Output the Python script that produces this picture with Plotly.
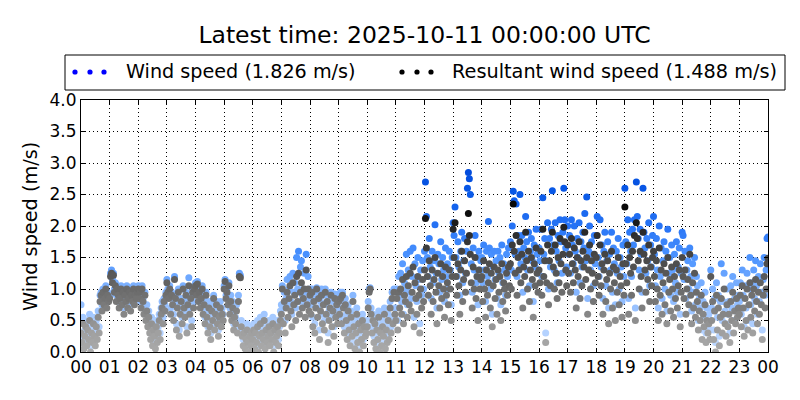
import plotly.graph_objects as go
import pandas as pd

# ---------------- data (~2-minute samples per hour) ----------------
wind_speed_by_hour = [
    [0.75,0.25,0.55,0.15,0.35,0.5,0.2,0.45,0.3,0.6,0.1,0.4,0.25,0.55,0.35,0.2,0.5,0.3,0.65,0.4,0.9,0.95,0.75,1.0,0.85,0.9,1.05,0.8,0.95,0.9],
    [0.9,1.25,1.3,1.15,1.25,1.0,1.1,0.9,1.05,0.95,0.8,0.9,1.05,0.85,1.0,0.7,0.95,0.9,1.05,0.8,0.9,1.0,0.75,0.95,0.85,1.05,0.8,0.95,0.9,1.0],
    [1.05,0.9,1.0,0.8,1.05,0.85,0.7,0.95,0.6,0.75,0.5,0.65,0.4,0.3,0.55,0.2,0.45,0.35,0.15,0.5,0.25,0.4,0.6,0.3,0.7,0.8,0.55,0.85,0.75,0.95],
    [1.15,1.0,0.95,1.05,0.7,0.95,0.85,0.6,1.2,0.9,0.45,0.8,1.0,0.35,0.7,0.85,0.55,1.05,0.8,0.65,0.95,0.4,0.85,1.18,0.7,0.9,0.5,1.0,0.8,1.05],
    [1.1,0.95,1.12,0.9,1.0,0.8,0.9,1.05,0.7,0.85,0.55,0.95,0.65,0.4,0.8,0.5,0.3,0.75,0.6,0.9,0.45,0.7,0.8,0.55,0.35,0.65,0.8,0.5,0.7,0.6],
    [1.05,1.15,0.9,1.0,0.85,1.1,0.7,0.9,0.6,0.8,0.45,0.65,0.55,0.75,0.4,0.9,1.25,1.22,0.5,0.35,0.2,0.4,0.15,0.3,0.45,0.25,0.1,0.35,0.2,0.4],
    [0.3,0.45,0.15,0.4,0.25,0.5,0.1,0.35,0.55,0.2,0.4,0.3,0.6,0.15,0.45,0.25,0.35,0.5,0.2,0.4,0.3,0.55,0.1,0.45,0.25,0.35,0.5,0.2,0.4,0.65],
    [0.75,1.05,0.7,0.95,0.5,0.85,1.15,0.75,1.0,1.2,0.8,0.6,1.25,0.95,1.1,0.7,1.5,1.0,1.6,0.8,1.35,1.45,0.9,1.0,1.25,0.75,1.55,0.95,1.2,0.85],
    [1.0,0.75,1.0,0.55,0.95,0.45,0.85,1.02,0.7,0.95,0.35,0.8,1.0,0.6,0.9,0.5,1.0,0.75,0.9,0.3,0.65,0.85,0.95,0.55,0.8,0.4,0.92,0.7,0.85,0.6],
    [0.9,0.7,0.95,0.55,0.95,0.8,0.4,0.85,0.6,0.3,0.75,0.45,0.2,0.65,0.35,0.9,0.5,0.15,0.4,0.7,0.25,0.55,0.1,0.45,0.3,0.6,0.2,0.5,0.35,0.4],
    [0.5,0.8,1.0,1.02,0.7,0.4,0.6,0.25,0.55,0.15,0.45,0.3,0.65,0.1,0.4,0.2,0.5,0.35,0.7,0.15,0.45,0.25,0.6,0.3,0.8,0.4,0.95,0.55,1.0,0.7],
    [0.7,1.0,0.5,1.2,0.9,1.25,0.8,1.4,0.6,1.1,1.0,1.55,0.75,1.3,0.95,1.6,0.85,1.2,1.65,0.55,1.4,1.05,0.8,1.5,1.15,0.45,1.3,0.9,1.45,1.0],
    [1.6,2.7,2.15,1.5,1.2,1.8,1.35,0.85,1.6,1.1,1.45,2.02,1.25,0.7,1.55,1.4,0.95,1.75,1.15,1.5,1.3,0.8,1.65,1.2,1.4,1.0,1.6,1.3,0.75,1.5],
    [2.05,1.85,2.3,1.5,1.2,1.75,1.35,0.9,1.6,1.9,1.1,1.45,1.8,1.25,1.6,2.6,2.85,2.75,2.5,1.4,0.95,1.65,1.3,1.85,1.1,1.5,0.75,1.6,1.3,1.45],
    [1.5,1.1,1.7,1.3,0.8,1.6,1.2,2.07,1.65,1.0,1.55,0.6,1.35,1.6,1.15,1.45,0.85,1.6,1.25,1.5,0.75,1.7,1.1,1.4,1.3,0.9,1.55,1.2,1.65,1.35],
    [1.75,1.3,2.0,2.55,2.4,1.55,2.35,1.2,1.85,1.6,2.5,1.4,1.85,0.95,1.65,1.5,2.15,1.75,1.3,1.9,1.05,1.6,1.8,1.45,0.8,1.7,1.35,1.95,1.55,1.25],
    [1.65,1.45,1.95,1.2,2.45,1.55,1.8,0.3,1.45,2.05,1.0,1.8,1.35,1.95,2.56,1.7,1.3,2.05,1.6,1.1,1.85,1.45,2.1,1.75,1.25,1.9,2.6,2.1,1.65,1.35],
    [2.0,1.55,1.85,1.25,2.1,1.7,1.4,2.0,1.6,0.95,1.8,1.5,2.05,1.1,1.75,1.35,1.9,1.65,2.2,1.45,2.46,0.85,1.6,2.0,1.3,1.75,1.55,1.05,1.85,1.4],
    [1.85,2.15,1.5,1.2,2.1,1.35,1.7,0.85,1.6,1.9,1.05,1.45,1.75,0.7,1.55,1.3,1.9,0.95,1.65,1.4,0.75,1.6,1.25,1.8,1.0,1.5,1.35,0.8,1.7,1.2],
    [2.6,1.75,1.4,2.1,0.85,1.9,1.6,1.2,1.95,1.7,2.1,0.7,2.7,2.15,1.8,1.3,1.95,1.55,0.95,2.6,1.9,1.65,1.25,1.8,1.45,2.05,1.05,1.7,1.35,1.85],
    [2.15,1.55,1.05,1.8,1.3,0.7,2.0,1.2,1.65,0.85,1.45,1.75,1.0,1.6,0.65,1.95,1.25,1.5,0.9,1.7,1.3,0.8,1.55,1.1,1.75,0.95,1.35,1.65,0.6,1.25],
    [1.9,1.85,1.15,1.6,0.85,1.3,1.45,1.0,1.65,1.2,0.65,1.4,0.95,1.5,0.75,1.2,1.05,0.5,0.85,0.7,1.1,0.35,0.8,0.55,0.95,0.3,0.7,0.45,0.6,0.35],
    [1.3,0.7,1.0,0.35,0.85,0.15,1.1,0.55,0.9,0.25,0.8,1.4,0.5,0.8,1.25,0.65,0.45,1.0,0.6,0.8,0.3,1.05,0.7,1.2,0.5,0.85,0.65,1.1,0.75,0.9],
    [0.8,1.1,0.6,1.3,0.9,0.4,1.05,0.7,1.25,0.5,1.0,1.5,0.75,1.1,0.45,1.3,0.85,1.45,1.05,0.6,1.2,0.8,1.4,0.95,0.35,1.15,1.5,0.9,1.3,1.8],
]
resultant_by_hour = [
    [0.3,0.15,0.45,0.05,0.25,0.4,0.1,0.35,0.2,0.5,0.0,0.3,0.15,0.45,0.25,0.1,0.4,0.2,0.55,0.3,0.8,0.9,0.65,0.95,0.75,0.85,1.0,0.7,0.9,0.8],
    [0.85,1.2,1.25,1.1,1.22,0.95,1.05,0.8,1.0,0.9,0.7,0.85,1.0,0.75,0.95,0.6,0.9,0.8,1.0,0.7,0.85,0.95,0.65,0.9,0.8,1.0,0.75,0.9,0.85,0.95],
    [1.0,0.85,0.95,0.7,1.0,0.8,0.6,0.9,0.5,0.65,0.4,0.55,0.3,0.2,0.45,0.1,0.35,0.25,0.05,0.4,0.15,0.3,0.5,0.2,0.6,0.7,0.45,0.8,0.65,0.9],
    [1.1,0.95,0.85,1.0,0.6,0.9,0.75,0.5,1.15,0.85,0.35,0.7,0.95,0.25,0.6,0.8,0.45,1.0,0.7,0.55,0.9,0.3,0.75,1.05,0.6,0.85,0.4,0.95,0.7,1.0],
    [1.05,0.9,1.08,0.8,0.95,0.7,0.85,1.0,0.6,0.75,0.45,0.9,0.55,0.3,0.7,0.4,0.2,0.65,0.5,0.85,0.35,0.6,0.75,0.45,0.25,0.55,0.7,0.4,0.6,0.5],
    [1.0,1.12,0.85,0.95,0.75,1.05,0.6,0.8,0.5,0.7,0.35,0.55,0.45,0.65,0.3,0.8,1.2,1.18,0.4,0.25,0.1,0.3,0.05,0.2,0.35,0.15,0.0,0.25,0.1,0.3],
    [0.2,0.35,0.05,0.3,0.15,0.4,0.0,0.25,0.45,0.1,0.3,0.2,0.5,0.05,0.35,0.15,0.25,0.4,0.1,0.3,0.2,0.45,0.0,0.35,0.15,0.25,0.4,0.1,0.3,0.5],
    [0.6,1.0,0.45,0.8,0.3,0.7,0.95,0.55,0.85,1.05,0.65,0.4,1.1,0.75,0.9,0.5,1.2,0.8,1.25,0.6,0.95,1.1,0.7,0.85,1.0,0.55,1.3,0.75,1.0,0.65],
    [0.9,0.6,0.95,0.4,0.8,0.3,0.7,1.0,0.55,0.85,0.2,0.65,0.9,0.45,0.75,0.35,0.95,0.6,0.8,0.15,0.5,0.7,0.9,0.4,0.65,0.25,0.85,0.55,0.75,0.45],
    [0.8,0.6,0.85,0.45,0.9,0.7,0.3,0.75,0.5,0.2,0.65,0.35,0.1,0.55,0.25,0.8,0.4,0.05,0.3,0.6,0.15,0.45,0.0,0.35,0.2,0.5,0.1,0.4,0.25,0.3],
    [0.4,0.7,0.95,1.0,0.6,0.3,0.5,0.15,0.45,0.05,0.35,0.2,0.55,0.0,0.3,0.1,0.4,0.25,0.6,0.05,0.35,0.15,0.5,0.2,0.7,0.3,0.85,0.45,0.95,0.6],
    [0.5,0.85,0.35,0.95,0.7,1.0,0.6,1.15,0.45,0.9,0.8,1.2,0.55,1.05,0.75,1.25,0.65,0.95,1.35,0.4,1.1,0.85,0.6,1.2,0.9,0.3,1.0,0.7,1.15,0.8],
    [1.3,2.12,1.65,1.2,0.9,1.45,1.05,0.6,1.3,0.8,1.15,1.5,0.95,0.45,1.25,1.05,0.7,1.4,0.85,1.2,1.0,0.55,1.35,0.9,1.1,0.75,1.3,1.0,0.5,1.2],
    [1.95,1.5,2.05,1.2,0.9,1.4,1.05,0.6,1.3,1.6,0.8,1.15,1.45,0.95,1.25,1.75,2.2,1.85,1.55,1.1,0.7,1.35,1.0,1.5,0.85,1.2,0.5,1.3,1.0,1.15],
    [1.2,0.8,1.45,1.0,0.55,1.3,0.9,1.1,1.4,0.7,1.25,0.4,1.05,1.35,0.85,1.15,0.6,1.3,0.95,1.2,0.5,1.4,0.8,1.1,1.0,0.65,1.25,0.9,1.35,1.05],
    [1.4,1.0,1.7,2.35,1.6,1.25,1.85,0.9,1.5,1.3,1.75,1.1,1.55,0.7,1.35,1.2,1.9,1.45,1.0,1.6,0.8,1.3,1.5,1.15,0.55,1.4,1.05,1.65,1.25,0.95],
    [1.3,1.1,1.6,0.9,1.95,1.2,1.45,0.15,1.1,1.7,0.75,1.45,1.05,1.6,1.9,1.35,1.0,1.7,1.25,0.85,1.5,1.1,1.8,1.4,0.95,1.55,1.98,1.75,1.3,1.05],
    [1.7,1.25,1.55,0.95,1.8,1.4,1.1,1.65,1.3,0.7,1.5,1.2,1.75,0.85,1.45,1.05,1.6,1.35,1.9,1.15,1.5,0.6,1.3,1.7,1.0,1.45,1.25,0.8,1.55,1.1],
    [1.5,1.85,1.2,0.9,1.7,1.05,1.4,0.6,1.3,1.55,0.8,1.15,1.45,0.45,1.25,1.0,1.6,0.7,1.35,1.1,0.5,1.3,0.95,1.5,0.75,1.2,1.05,0.55,1.4,0.9],
    [2.3,1.4,1.1,1.7,0.6,1.5,1.25,0.9,1.6,1.35,1.85,0.5,2.05,1.8,1.45,1.0,1.6,1.2,0.7,1.9,1.55,1.3,0.95,1.45,1.15,1.7,0.8,1.35,1.05,1.5],
    [1.6,1.2,0.8,1.45,1.0,0.5,1.65,0.9,1.3,0.6,1.1,1.4,0.75,1.25,0.45,1.5,0.95,1.15,0.65,1.35,1.0,0.55,1.2,0.85,1.4,0.7,1.05,1.3,0.4,0.95],
    [1.5,1.2,0.85,1.3,0.6,1.0,1.15,0.75,1.55,0.9,0.45,1.1,0.7,1.25,0.55,0.95,0.8,0.35,0.65,0.5,0.9,0.2,0.6,0.4,0.75,0.15,0.5,0.3,0.45,0.2],
    [1.2,0.5,0.8,0.2,0.65,0.0,0.9,0.35,0.7,0.1,0.55,0.85,0.3,0.6,1.0,0.45,0.25,0.75,0.4,0.6,0.15,0.8,0.5,0.95,0.3,0.65,0.45,0.85,0.55,0.7],
    [0.6,0.9,0.4,1.05,0.7,0.25,0.85,0.5,1.0,0.35,0.75,1.1,0.55,0.9,0.3,1.0,0.65,1.15,0.8,0.45,0.95,0.6,1.1,0.75,0.2,0.9,1.2,0.7,1.0,1.4],
]
latest_wind_speed = 1.826
latest_resultant = 1.488
hour_tick_labels = [f"{h:02d}" for h in range(24)] + ["00"]
day_start = pd.Timestamp("2025-10-10 00:00")

# sample times: each hour's samples evenly spread across that hour, plus the latest sample
times = []
for h, hour_vals in enumerate(wind_speed_by_hour):
    n = len(hour_vals)
    times += [day_start + pd.Timedelta(hours=h) + pd.Timedelta(minutes=60 * i / n) for i in range(n)]
times.append(day_start + pd.Timedelta(hours=24))

wind_speed = [v for hour in wind_speed_by_hour for v in hour] + [latest_wind_speed]
resultant = [v for hour in resultant_by_hour for v in hour] + [latest_resultant]
tick_times = pd.date_range(day_start, periods=25, freq="h")

# ---------------- styling ----------------
FONT = "DejaVu Sans, sans-serif"
blue_scale = [[0.0, "#c4dcff"], [0.1667, "#aaccff"], [0.3333, "#80b3ff"],
              [0.5, "#4d94ff"], [0.6667, "#2673f5"], [0.8333, "#0a5ae8"], [1.0, "#0048d8"]]
grey_scale = [[0.0, "#aaaaaa"], [0.12, "#a0a0a0"], [0.2, "#8e8e8e"], [0.32, "#767676"],
              [0.4, "#6a6a6a"], [0.48, "#5a5a5a"], [0.6, "#484848"], [0.72, "#333333"],
              [0.88, "#0d0d0d"], [1.0, "#000000"]]

fig = go.Figure()
fig.add_trace(go.Scatter(
    x=times, y=wind_speed, mode="markers", name="Wind speed",
    marker=dict(size=7, color=wind_speed, colorscale=blue_scale, cmin=0, cmax=3,
                line=dict(width=0)),
    showlegend=False))
fig.add_trace(go.Scatter(
    x=times, y=resultant, mode="markers", name="Resultant wind speed",
    marker=dict(size=7, color=resultant, colorscale=grey_scale, cmin=0, cmax=2.5,
                line=dict(width=0)),
    showlegend=False))

L, R, T, B = 81, 32, 100, 48
W, H = 800, 400
pw, ph = W - L - R, H - T - B

def px_x(x):
    return (x - L) / pw

def px_y(y):
    return (H - B - y) / ph

shapes = [dict(type="rect", xref="paper", yref="paper",
               x0=px_x(65), x1=px_x(785), y0=px_y(90), y1=px_y(55),
               line=dict(color="black", width=1), fillcolor="white", layer="above")]
for xc, col in [(75, "blue"), (90, "blue"), (104, "blue"),
                (402, "black"), (417, "black"), (431, "black")]:
    shapes.append(dict(type="circle", xref="paper", yref="paper",
                       xsizemode="pixel", ysizemode="pixel",
                       xanchor=px_x(xc), yanchor=px_y(72),
                       x0=-2.6, x1=2.6, y0=-2.6, y1=2.6,
                       fillcolor=col, line=dict(width=0)))

annotations = [
    dict(text=f"Wind speed ({latest_wind_speed:.3f} m/s)", xref="paper", yref="paper",
         x=px_x(124), y=px_y(72), xanchor="left", yanchor="middle", showarrow=False,
         font=dict(family=FONT, size=19.2, color="black")),
    dict(text=f"Resultant wind speed ({latest_resultant:.3f} m/s)", xref="paper", yref="paper",
         x=px_x(450), y=px_y(72), xanchor="left", yanchor="middle", showarrow=False,
         font=dict(family=FONT, size=19.3, color="black")),
    dict(text="Wind speed (m/s)", xref="paper", yref="paper", x=px_x(30), y=0.5,
         xanchor="center", yanchor="middle", textangle=-90, showarrow=False,
         font=dict(family=FONT, size=19.3, color="black")),
]

fig.update_layout(
    width=W, height=H,
    margin=dict(l=L, r=R, t=T, b=B),
    paper_bgcolor="white", plot_bgcolor="white",
    font=dict(family=FONT, size=17, color="black"),
    title=dict(text="Latest time: 2025-10-11 00:00:00 UTC", x=0.5, xref="paper",
               y=1 - 35 / H, yref="container", yanchor="middle", xanchor="center",
               font=dict(family=FONT, size=23.5, color="black")),
    shapes=shapes, annotations=annotations,
)
fig.update_xaxes(
    range=[tick_times[0], tick_times[-1]], tickvals=tick_times, ticktext=hour_tick_labels,
    showline=True, linecolor="black", linewidth=1, mirror="allticks",
    ticks="inside", ticklen=4, tickcolor="black",
    showgrid=True, gridcolor="black", griddash="1px,3px", gridwidth=1,
    zeroline=False, tickfont=dict(family=FONT, size=17))
fig.update_yaxes(
    range=[0, 4], dtick=0.5, tickformat=".1f",
    showline=True, linecolor="black", linewidth=1, mirror="allticks",
    ticks="inside", ticklen=4, tickcolor="black",
    showgrid=True, gridcolor="black", griddash="1px,3px", gridwidth=1,
    zeroline=False, tickfont=dict(family=FONT, size=17))

fig.write_html("out.html", config={"displayModeBar": False},
               post_script="document.body.style.margin='0';")
